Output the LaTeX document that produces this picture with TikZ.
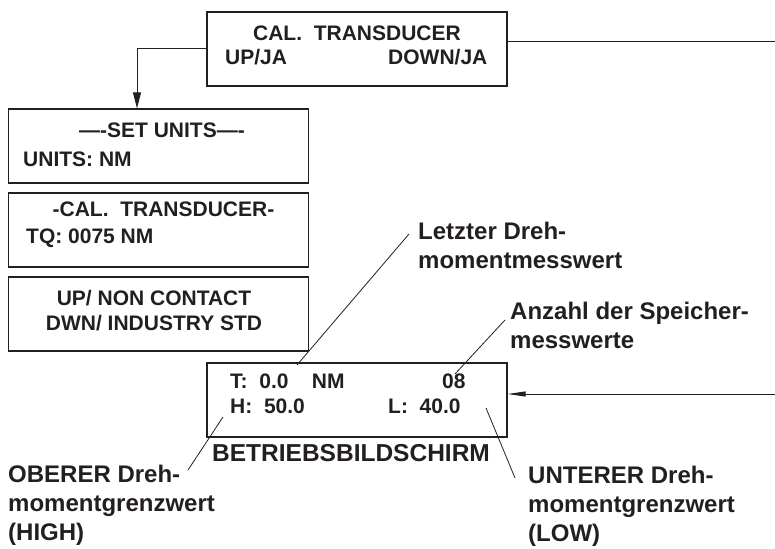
\documentclass[tikz,border=0pt]{standalone}
\usepackage{fontspec}
\setmainfont{Liberation Sans}
\usetikzlibrary{positioning,arrows.meta,calc}
\definecolor{lcdink}{RGB}{35,31,32}

\begin{document}
\begin{tikzpicture}[x=1pt,y=-1pt,
    scr/.style={rectangle,draw=lcdink,line width=1.3pt,minimum width=300pt,
                minimum height=74pt,inner sep=0pt},
    scrtxt/.style={anchor=base west,inner sep=0pt,text=lcdink,
                   font=\bfseries\fontsize{21}{24}\selectfont},
    scrmid/.style={scrtxt,anchor=base},
    lbl/.style={anchor=base west,inner sep=0pt,align=left,text=lcdink,
                font=\bfseries\fontsize{24}{29}\selectfont},
    arr/.style={-{Triangle[length=16pt,width=8pt]},lcdink,line width=1pt},
    arrin/.style={-{Triangle[length=18pt,width=5pt]},lcdink,line width=1pt},
    lead/.style={lcdink,line width=0.8pt}]
  \useasboundingbox (0,0) rectangle (775,548);
  % screens
  \node[scr] (cal)   at (357,49)    {};
  \node[scr] (units) at (158.5,146) {};
  \node[scr] (trans) at (158.5,230) {};
  \node[scr] (mode)  at (158.5,314) {};
  \node[scr] (disp)  at (357,400)   {};
  % screen texts
  \node[scrmid] (calA)   at (357,41)  {CAL.\ \ TRANSDUCER};
  \node[scrtxt] (calB)   at (225,65)  {UP/JA};
  \node[scrtxt] (calC)   at (388,65)  {DOWN/JA};
  \node[scrmid] (unitsA) at (162,138) {—-SET UNITS—-};
  \node[scrtxt] (unitsB) at (23,167)  {UNITS: NM};
  \node[scrmid] (transA) at (163.5,216) {-CAL.\ \ TRANSDUCER-};
  \node[scrtxt] (transB) at (26,243)  {TQ: 0075 NM};
  \node[scrmid] (modeA)  at (154,305) {UP/ NON CONTACT};
  \node[scrmid] (modeB)  at (154,330) {DWN/ INDUSTRY STD};
  \node[scrtxt] (dispT)  at (230,388) {T:\ \ 0.0\ \ \ \ NM};
  \node[scrtxt] (dispN)  at (442,388) {08};
  \node[scrtxt] (dispH)  at (230,413) {H:\ \ 50.0};
  \node[scrtxt] (dispL)  at (388,413) {L:\ \ 40.0};
  \node[lbl,font=\bfseries\fontsize{24.5}{29}\selectfont] (title) at (212,461) {BETRIEBSBILDSCHIRM};
  % callouts (base = last line)
  \node[lbl] (lastlbl)  at (418,268) {Letzter Dreh-\\momentmesswert};
  \node[lbl] (countlbl) at (510,348) {Anzahl der Speicher-\\messwerte};
  \node[lbl] (highlbl)  at (8,540)   {OBERER Dreh-\\momentgrenzwert\\(HIGH)};
  \node[lbl] (lowlbl)   at (528,541) {UNTERER Dreh-\\momentgrenzwert\\(LOW)};
  \coordinate (lastA)  at (409,234); \coordinate (lastB)  at (297,365);
  \coordinate (countA) at (505,320); \coordinate (countB) at (455,374);
  \coordinate (highA)  at (223,417); \coordinate (highB)  at (188,470);
  \coordinate (lowA)   at (486,408); \coordinate (lowB)   at (515,478);
  \draw[lead] (lastA) -- (lastB);
  \draw[lead] (countA) -- (countB);
  \draw[lead] (highA) -- (highB);
  \draw[lead] (lowA) -- (lowB);
  % flow
  \coordinate (calout) at (775,42);
  \coordinate (dispin) at (775,394);
  \draw[arr] (cal.west) -| ([xshift=-21.5pt]units.north);
  \draw[lead,line width=1pt] ([yshift=7pt]cal.east) -- (calout);
  \draw[arrin] (dispin) -- ([yshift=6pt]disp.east);
\end{tikzpicture}
\end{document}
